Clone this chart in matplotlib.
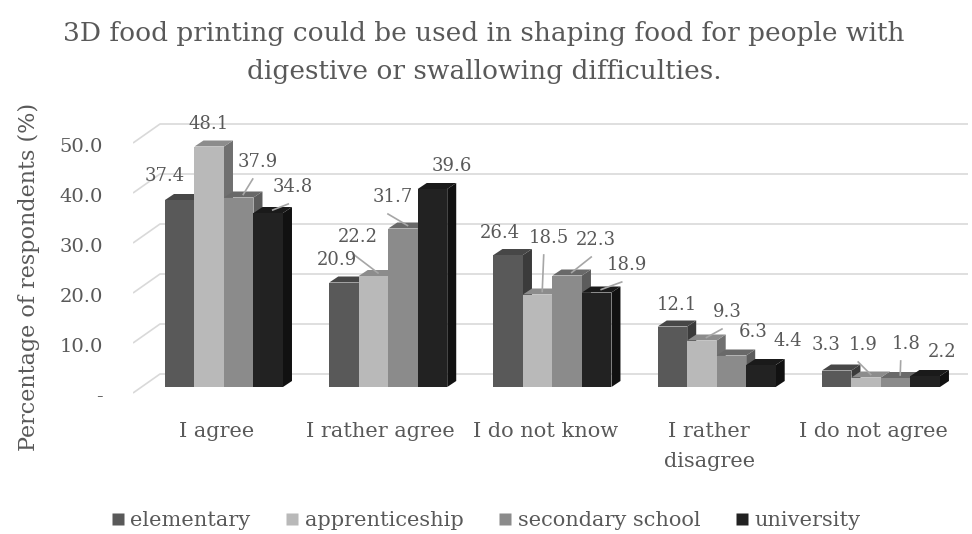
import matplotlib.pyplot as plt
from matplotlib.patches import Polygon
import numpy as np

categories = ['I agree', 'I rather agree', 'I do not know', 'I rather\ndisagree', 'I do not agree']
series = ['elementary', 'apprenticeship', 'secondary school', 'university']
elementary = [37.4, 20.9, 26.4, 12.1, 3.3]
apprenticeship = [48.1, 22.2, 18.5, 9.3, 1.9]
secondary_school = [37.9, 31.7, 22.3, 6.3, 1.8]
university = [34.8, 39.6, 18.9, 4.4, 2.2]
yticks = [0, 10, 20, 30, 40, 50]
ytick_labels = ['-', '10.0', '20.0', '30.0', '40.0', '50.0']

values = [elementary, apprenticeship, secondary_school, university]

# front / top / side shades for each series
front_col = ['#595959', '#b9b9b9', '#8b8b8b', '#222222']
top_col = ['#474747', '#8c8c8c', '#696969', '#1a1a1a']
side_col = ['#3b3b3b', '#707070', '#5c5c5c', '#111111']
text_col = '#595959'

# pixel scale of the data: 164.25 px per category, 5 px per percent
PX_X = 164.25
PX_Y = 5.0
bar_w = 29.5 / PX_X
bar_dx, bar_dy = 9 / PX_X, 6 / PX_Y          # bar depth
floor_dx, floor_dy = 27 / PX_X, 19 / PX_Y    # floor depth
floor_front = -1.2
wall_left = -0.554
x_right = 4.53

# data label offsets (px, relative to front-top centre of bar) and leader flags
label_off = [
    [(-15, 24), (-1, 22.5), (19, 35.5), (25, 26)],
    [(-7, 22.5), (-15.5, 39), (-10, 31.5), (19.5, 23)],
    [(-8, 22), (11, 56.5), (29, 35.5), (30, 27.5)],
    [(4.5, 21.5), (25, 28.5), (21.5, 23.5), (27, 24)],
    [(-10.75, 25.5), (-3, 32.5), (10, 34), (17, 24)],
]
leader = [
    [0, 0, 1, 1],
    [0, 1, 1, 0],
    [0, 1, 1, 1],
    [0, 1, 0, 0],
    [0, 1, 1, 0],
]

plt.rcParams['font.family'] = ['DejaVu Serif']
fig = plt.figure(figsize=(9.72, 5.34), dpi=100)
ax = fig.add_axes([133 / 972, 134 / 534, 835 / 972, 300 / 534])
ax.set_xlim(wall_left, x_right)
ax.set_ylim(-2.6, 57.4)

# back wall gridlines with the diagonal on the left wall
grid_c = '#d9d9d9'
for v in yticks:
    ax.plot([wall_left, wall_left + floor_dx, x_right],
            [floor_front + v, floor_front + floor_dy + v, floor_front + floor_dy + v],
            color=grid_c, lw=1.2, zorder=1, solid_capstyle='butt')

x = np.arange(len(categories))
for j in range(len(series)):
    left = x - 2 * bar_w + j * bar_w
    for i in range(len(categories)):
        v = values[j][i]
        L, R = left[i], left[i] + bar_w
        side = Polygon([(R, 0), (R + bar_dx, bar_dy), (R + bar_dx, v + bar_dy), (R, v)],
                       closed=True, fc=side_col[j], ec='none', zorder=2)
        top = Polygon([(L, v), (R, v), (R + bar_dx, v + bar_dy), (L + bar_dx, v + bar_dy)],
                      closed=True, fc=top_col[j], ec='none', zorder=2)
        ax.add_patch(side)
        ax.add_patch(top)
    ax.bar(left, values[j], width=bar_w, align='edge', color=front_col[j],
           zorder=2, label=series[j])

# value labels
for j in range(len(series)):
    for i in range(len(categories)):
        v = values[j][i]
        cx = x[i] - 2 * bar_w + (j + 0.5) * bar_w
        ox, oy = label_off[i][j]
        lx, ly = cx + ox / PX_X, v + oy / PX_Y
        ax.text(lx, ly, f'{v:.1f}', ha='center', va='center', fontsize=13,
                color=text_col, zorder=4)
        if leader[i][j]:
            ax.plot([lx - 5 / PX_X, cx + bar_dx / 2], [ly - 17 / PX_Y, v + bar_dy / 2],
                    color='#a6a6a6', lw=1.2, zorder=3)

for s in ax.spines.values():
    s.set_visible(False)
ax.set_yticks(np.array(yticks) - 1.6, ytick_labels)
ax.set_xticks(x - 0.045, categories, linespacing=1.75)
ax.tick_params(axis='y', length=0, pad=21.6, labelsize=14, labelcolor=text_col)
ax.tick_params(axis='x', length=0, pad=16, labelsize=15, labelcolor=text_col)
ax.set_ylabel('Percentage of respondents (%)', fontsize=16, color=text_col)
ax.yaxis.set_label_coords(-93 / 835, 0.41)

fig.text(0.498, 0.96, '3D food printing could be used in shaping food for people with\n'
         'digestive or swallowing difficulties.',
         ha='center', va='top', fontsize=19, color=text_col, linespacing=1.62)

handles = [plt.Line2D([], [], ls='none', marker='s', markersize=9,
                      markerfacecolor=c, markeredgecolor='none') for c in front_col]
fig.legend(handles, series, loc='lower center', bbox_to_anchor=(0.5, -0.028), ncol=4,
           frameon=False, fontsize=15, handlelength=0.6, handletextpad=0.3,
           columnspacing=1.7, labelcolor=text_col)

fig.savefig('out.png', dpi=100)
